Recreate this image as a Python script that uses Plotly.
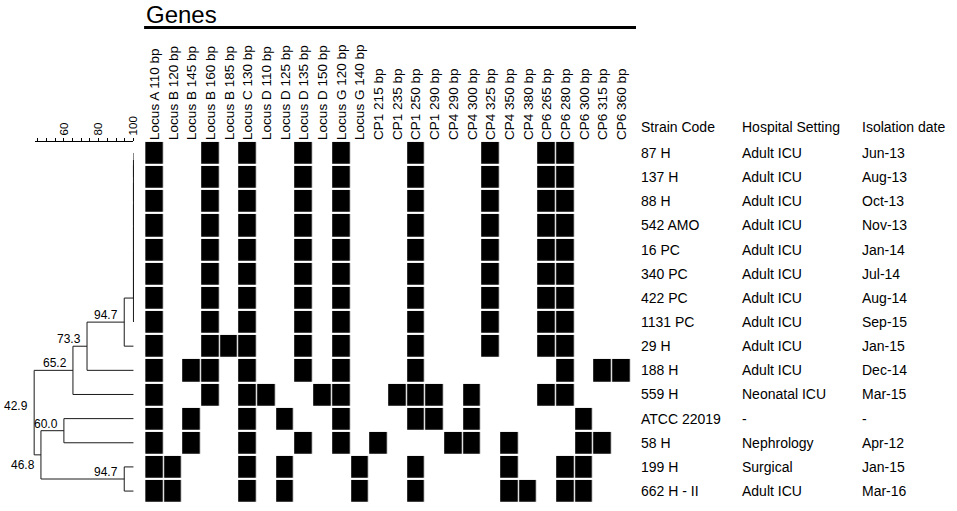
import plotly.graph_objects as go

# 基因条带（列）
genes = [
    "Locus A 110 bp", "Locus B 120 bp", "Locus B 145 bp", "Locus B 160 bp",
    "Locus B 185 bp", "Locus C 130 bp", "Locus D 110 bp", "Locus D 125 bp",
    "Locus D 135 bp", "Locus D 150 bp", "Locus G 120 bp", "Locus G 140 bp",
    "CP1 215 bp", "CP1 235 bp", "CP1 250 bp", "CP1 290 bp",
    "CP4 290 bp", "CP4 300 bp", "CP4 325 bp", "CP4 350 bp", "CP4 380 bp",
    "CP6 265 bp", "CP6 280 bp", "CP6 300 bp", "CP6 315 bp", "CP6 360 bp",
]

# 菌株信息（行）
strains = ["87 H", "137 H", "88 H", "542 AMO", "16 PC", "340 PC", "422 PC",
           "1131 PC", "29 H", "188 H", "559 H", "ATCC 22019", "58 H",
           "199 H", "662 H - II"]
hospital = ["Adult ICU"] * 10 + ["Neonatal ICU", "-", "Nephrology",
                                  "Surgical", "Adult ICU"]
iso_date = ["Jun-13", "Aug-13", "Oct-13", "Nov-13", "Jan-14", "Jul-14",
            "Aug-14", "Sep-15", "Jan-15", "Dec-14", "Mar-15", "-", "Apr-12",
            "Jan-15", "Mar-16"]

# 条带有无 (1 = 有)
core = [1,0,0,1,0,1,0,0,1,0,1,0,0,0,1,0,0,0,1,0,0,1,1,0,0,0]
presence = [core] * 8 + [
    [1,0,0,1,1,1,0,0,1,0,1,0,0,0,1,0,0,0,1,0,0,1,1,0,0,0],  # 29 H
    [1,0,1,1,0,1,0,0,1,0,1,0,0,0,1,0,0,0,0,0,0,0,1,0,1,1],  # 188 H
    [1,0,0,1,0,1,1,0,0,1,1,0,0,1,1,1,0,1,0,0,0,1,1,0,0,0],  # 559 H
    [1,0,1,0,0,1,0,1,0,0,1,0,0,0,1,1,0,1,0,0,0,0,0,1,0,0],  # ATCC 22019
    [1,0,1,0,0,1,0,0,1,0,1,0,1,0,0,0,1,1,0,1,0,0,0,1,1,0],  # 58 H
    [1,1,0,0,0,1,0,1,0,0,0,1,0,0,1,0,0,0,0,1,0,0,1,1,0,0],  # 199 H
    [1,1,0,0,0,1,0,1,0,0,0,1,0,0,1,0,0,0,0,1,1,0,1,1,0,0],  # 662 H - II
]

# 聚类合并 (子节点a, 子节点b, 相似度%)，叶子为0-14，新节点从15开始
merges = [
    (0, 1, 100), (15, 2, 100), (16, 3, 100), (17, 4, 100), (18, 5, 100),
    (19, 6, 100), (20, 7, 100), (21, 8, 94.7), (22, 9, 73.3),
    (23, 10, 65.2), (11, 12, 60.0), (13, 14, 94.7), (25, 26, 46.8),
    (24, 27, 42.9),
]

W, H = 957, 511
FONT = "Arial, Liberation Sans, sans-serif"
px_x = lambda v: v / W
px_y = lambda v: 1 - v / H

# 像素布局
cell_left, cell_w = 146.1, 18.8
cell_top, cell_h = 140.9, 24.15
px_per_unit, x100 = 1.75, 134.3

fig = go.Figure()

# 条带矩阵
fig.add_trace(go.Heatmap(
    z=presence, x=list(range(len(genes))), y=list(range(len(strains))),
    colorscale=[[0, "white"], [1, "black"]], zmin=0, zmax=1,
    xgap=1.3, ygap=2.2, showscale=False, hoverinfo="skip",
))

# 树状图坐标
pos = {i: (100.0, float(i)) for i in range(len(strains))}
xs, ys, labels = [], [], []
for k, (a, b, sim) in enumerate(merges):
    ya, yb = pos[a][1], pos[b][1]
    xs += [pos[a][0], sim, sim, pos[b][0], None]
    ys += [ya, ya, yb, yb, None]
    node = len(strains) + k
    pos[node] = (sim, (ya + yb) / 2)
    if sim < 100:
        labels.append((sim, (ya + yb) / 2))

fig.add_trace(go.Scatter(
    x=xs, y=ys, xaxis="x3", yaxis="y", mode="lines",
    line=dict(color="#1a1a1a", width=1), hoverinfo="skip", showlegend=False,
))

for sim, yv in labels:
    below = abs(sim - 46.8) < 1e-6
    fig.add_annotation(
        x=sim, y=yv, xref="x3", yref="y", text=f"{sim:.1f}",
        showarrow=False, xanchor="right", yanchor="top" if below else "bottom",
        xshift=-4, yshift=-1 if below else -2,
        font=dict(family=FONT, size=12, color="black"),
    )

# 比例尺占位
scale_lo = 100 - (x100 - 35) / px_per_unit
fig.add_trace(go.Scatter(
    x=[scale_lo, 100], y=[0, 0], xaxis="x4", yaxis="y4", mode="markers",
    marker=dict(opacity=0), hoverinfo="skip", showlegend=False,
))

# 右侧文字表格
cols_px = [642.7, 745, 865]
headers = ["Strain Code", "Hospital Setting", "Isolation date"]
for xp, head, vals in zip(cols_px, headers, [strains, hospital, iso_date]):
    fig.add_annotation(
        x=px_x(xp), y=px_y(126.7), xref="paper", yref="paper", text=head,
        showarrow=False, xanchor="left", yanchor="middle",
        font=dict(family=FONT, size=14, color="black"),
    )
    for i, v in enumerate(vals):
        fig.add_annotation(
            x=px_x(xp), y=i, xref="paper", yref="y", text=v,
            showarrow=False, xanchor="left", yanchor="middle",
            font=dict(family=FONT, size=14, color="black"),
        )

# 标题 Genes 及下划线
fig.add_annotation(
    x=px_x(145), y=px_y(14), xref="paper", yref="paper", text="Genes",
    showarrow=False, xanchor="left", yanchor="middle",
    font=dict(family=FONT, size=24, color="black"),
)
fig.add_shape(type="line", xref="paper", yref="paper",
              x0=px_x(145), x1=px_x(640), y0=px_y(27.5), y1=px_y(27.5),
              line=dict(color="black", width=3))

fig.update_layout(
    width=W, height=H, margin=dict(l=0, r=0, t=0, b=0),
    paper_bgcolor="white", plot_bgcolor="white", showlegend=False,
    font=dict(family=FONT, color="black"),
    xaxis=dict(
        domain=[px_x(cell_left), px_x(cell_left + cell_w * len(genes))],
        range=[-0.5, len(genes) - 0.5], side="top", anchor="y",
        tickmode="array", tickvals=list(range(len(genes))), ticktext=genes,
        tickangle=-90, ticks="", showgrid=False, zeroline=False,
        tickfont=dict(family=FONT, size=13.5, color="black"),
    ),
    yaxis=dict(
        domain=[px_y(cell_top + cell_h * len(strains)), px_y(cell_top)],
        range=[len(strains) - 0.5, -0.5], visible=False, anchor="x",
    ),
    xaxis3=dict(
        domain=[0, px_x(140)], anchor="y", visible=False,
        range=[100 - x100 / px_per_unit, 100 + (140 - x100) / px_per_unit],
    ),
    xaxis4=dict(
        domain=[px_x(35), px_x(x100)], range=[scale_lo, 100], anchor="y4",
        side="top", showline=True, linecolor="black", linewidth=1,
        tickmode="array", tickvals=[60, 80, 100], ticks="outside",
        ticklen=3, tickcolor="black", tickangle=-90, showgrid=False,
        zeroline=False, tickfont=dict(family=FONT, size=11.5, color="black"),
        minor=dict(dtick=5, tick0=0, ticks="outside", ticklen=3,
                   tickcolor="black", showgrid=False),
    ),
    yaxis4=dict(domain=[px_y(160), px_y(141.7)], anchor="x4", visible=False,
                range=[-1, 1]),
)

fig.write_html("out.html", config={"displayModeBar": False},
               post_script="document.body.style.margin='0';")
